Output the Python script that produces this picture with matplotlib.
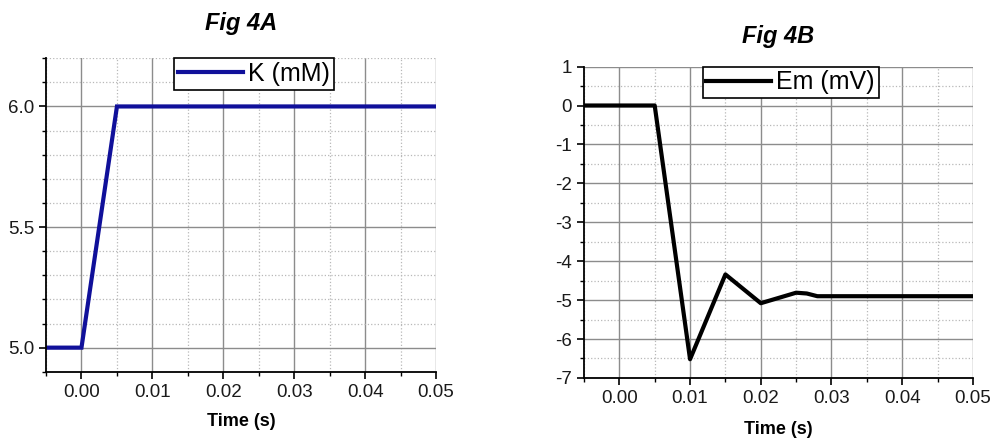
import matplotlib
matplotlib.use('Agg')
import matplotlib.pyplot as plt
from matplotlib.ticker import MultipleLocator, FormatStrFormatter

plt.rcParams['font.family'] = ['Liberation Sans', 'DejaVu Sans']

# potassium step (Fig 4A)
k_time = [-0.005, 0.0, 0.005, 0.05]
k_conc = [5.0, 5.0, 6.0, 6.0]

# membrane potential response (Fig 4B)
em_time = [-0.005, 0.005, 0.010, 0.015, 0.020, 0.025, 0.0265, 0.028, 0.05]
em_volt = [0.0, 0.0, -6.52, -4.34, -5.08, -4.81, -4.83, -4.9, -4.9]

x_ticks = [0.00, 0.01, 0.02, 0.03, 0.04, 0.05]

fig = plt.figure(figsize=(9.94, 4.41), dpi=100)
ax_a = fig.add_axes([0.0463, 0.157, 0.3924, 0.711])
ax_b = fig.add_axes([0.5875, 0.143, 0.3913, 0.706])


def style_axes(ax, ymajor, yminor, yfmt, labelpad):
    for side in ('top', 'right'):
        ax.spines[side].set_visible(False)
    for side in ('left', 'bottom'):
        ax.spines[side].set_linewidth(1.3)
        ax.spines[side].set_color('black')
    ax.set_xlim(-0.005, 0.05)
    ax.set_xticks(x_ticks)
    ax.xaxis.set_minor_locator(MultipleLocator(0.005))
    ax.xaxis.set_major_formatter(FormatStrFormatter('%.2f'))
    ax.yaxis.set_major_locator(MultipleLocator(ymajor))
    ax.yaxis.set_minor_locator(MultipleLocator(yminor))
    ax.yaxis.set_major_formatter(FormatStrFormatter(yfmt))
    ax.tick_params(which='major', direction='out', length=5, width=1.2,
                   labelsize=13.5, colors='black', labelcolor='#1a1a1a')
    ax.tick_params(which='minor', direction='out', length=3, width=1.0)
    ax.grid(which='major', color='#8c8c8c', linestyle='-', linewidth=1.0)
    ax.grid(which='minor', color='#b8b8b8', linestyle=':', linewidth=0.9)
    ax.set_axisbelow(True)
    ax.set_xlabel('Time (s)', fontsize=13, fontweight='bold', labelpad=labelpad)


ax_a.plot(k_time, k_conc, color='#10109a', linewidth=3, label='K (mM)',
          solid_joinstyle='miter')
ax_a.set_ylim(4.9, 6.2)
style_axes(ax_a, 0.5, 0.1, '%.1f', 9)
ax_a.set_title('Fig 4A', fontsize=17, fontweight='bold', fontstyle='italic', pad=20)
leg_a = ax_a.legend(loc='upper center', bbox_to_anchor=(0.533, 1.0),
                    borderaxespad=0, fontsize=18, frameon=True, fancybox=False,
                    framealpha=1, edgecolor='black', handlelength=2.6,
                    handletextpad=0.2, borderpad=0.15)
leg_a.get_frame().set_linewidth(1.2)

ax_b.plot(em_time, em_volt, color='black', linewidth=3, label='Em (mV)')
ax_b.set_ylim(-7, 1)
style_axes(ax_b, 1, 0.5, '%d', 10)
ax_b.set_title('Fig 4B', fontsize=17, fontweight='bold', fontstyle='italic', pad=17)
leg_b = ax_b.legend(loc='upper center', bbox_to_anchor=(0.531, 1.0),
                    borderaxespad=0, fontsize=18, frameon=True, fancybox=False,
                    framealpha=1, edgecolor='black', handlelength=2.6,
                    handletextpad=0.2, borderpad=0.15)
leg_b.get_frame().set_linewidth(1.2)

plt.savefig('out.png', dpi=100)
